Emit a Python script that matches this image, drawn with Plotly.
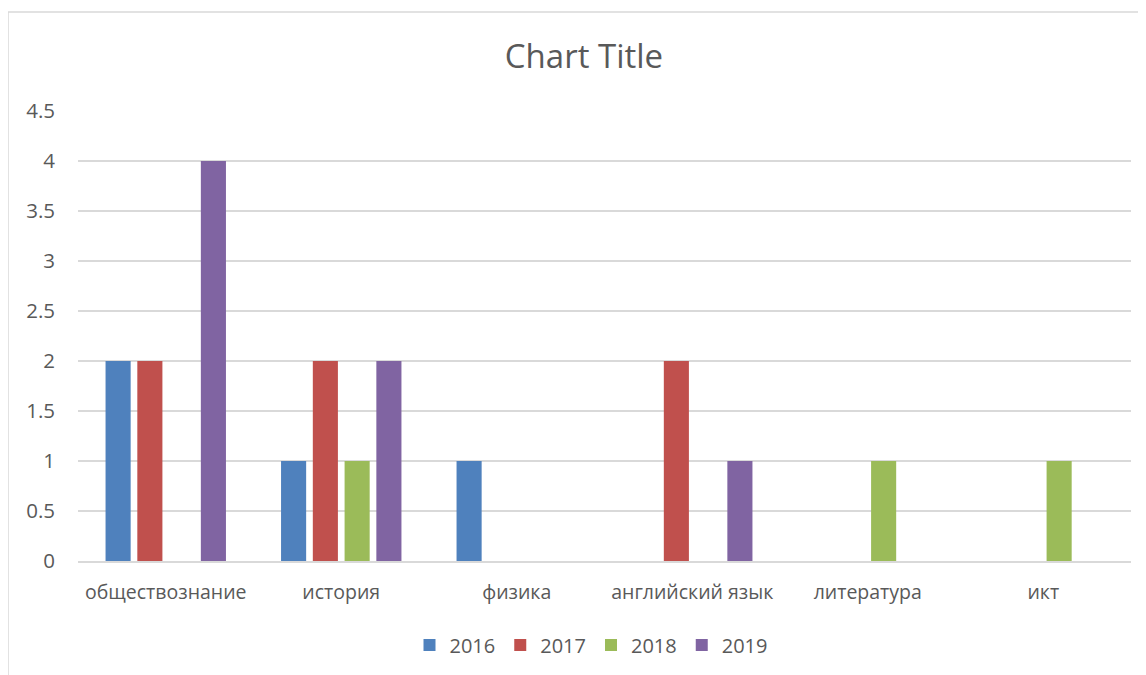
import plotly.graph_objects as go

categories = ["обществознание", "история", "физика", "английский язык", "литература", "икт"]
series_names = ["2016", "2017", "2018", "2019"]
v2016 = [2, 1, 1, 0, 0, 0]
v2017 = [2, 2, 0, 2, 0, 0]
v2018 = [0, 1, 0, 0, 1, 1]
v2019 = [4, 2, 0, 1, 0, 0]
colors = ["#4F81BD", "#C0504D", "#9BBB59", "#8064A2"]

FONT = "Open Sans"
TXT = "#595959"
GRID = "#D9D9D9"

fig = go.Figure()
for name, vals, col in zip(series_names, [v2016, v2017, v2018, v2019], colors):
    fig.add_trace(go.Bar(x=categories, y=vals, name=name, marker=dict(color=col, line=dict(width=0))))

# page is drawn with an 8px body offset; positions below are figure coords
OFF = 8
W, H = 1146, 675
L = 78 - OFF
T = 111 - OFF
R = W - (1131 - OFF)
B = H - (561 - OFF)
pw = W - L - R
ph = H - T - B

fig.update_layout(
    width=W, height=H,
    margin=dict(l=L, r=R, t=T, b=B),
    paper_bgcolor="white", plot_bgcolor="white",
    barmode="group", bargap=0.276, bargroupgap=0.21,
    font=dict(family=FONT, color=TXT, size=19),
    title=dict(text="Chart Title", x=(584 - OFF) / W, xref="container", xanchor="center",
               y=1 - (56 - OFF) / H, yref="container", yanchor="middle",
               font=dict(family=FONT, size=33, color=TXT)),
    legend=dict(orientation="h", x=(591 - L - OFF) / pw, xanchor="center",
                y=(561 - 645) / ph, yanchor="middle",
                font=dict(family=FONT, size=20, color=TXT),
                itemwidth=30, traceorder="normal"),
    showlegend=True,
)
fig.update_yaxes(range=[0, 4.5], dtick=0.5, showgrid=True, gridcolor=GRID, gridwidth=1.5,
                 zeroline=False, showline=False, ticks="", ticklabelstandoff=22,
                 tickfont=dict(family=FONT, size=20.5, color=TXT), fixedrange=True)
fig.update_xaxes(showgrid=False, showline=True, linecolor=GRID, linewidth=1.5, ticks="",
                 ticklabelstandoff=13, tickfont=dict(family=FONT, size=19.5, color=TXT),
                 tickangle=0)

fig.add_shape(type="rect", xref="paper", yref="paper",
              x0=(8 - OFF - L) / pw, x1=1.2, y0=-0.6, y1=1 + (111 - 12) / ph,
              line=dict(color=GRID, width=1.5), fillcolor="rgba(0,0,0,0)", layer="below")

fig.write_html("out.html")
